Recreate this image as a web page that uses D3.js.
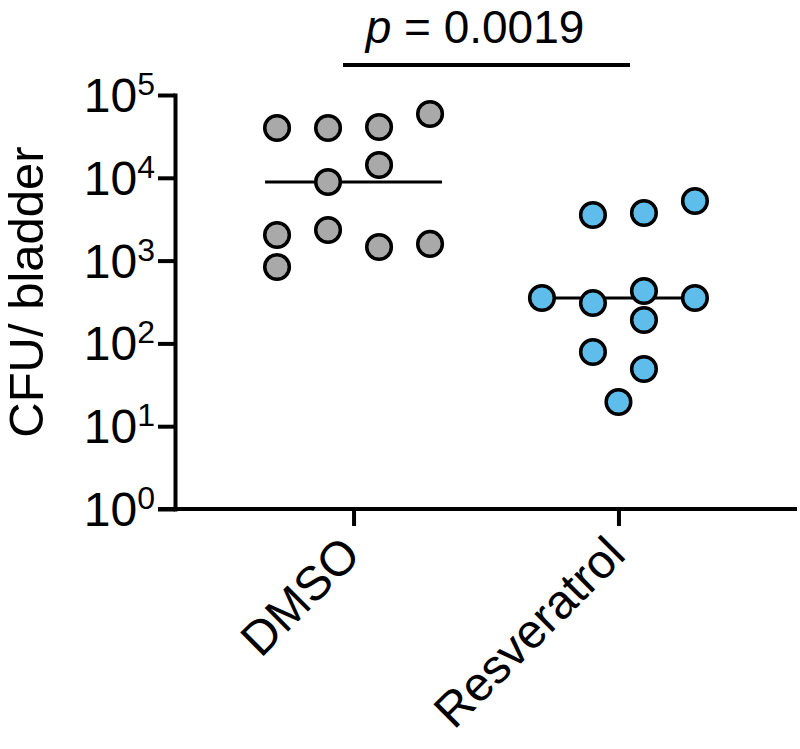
<!DOCTYPE html>
<html>
<head>
<meta charset="utf-8">
<script src="https://cdn.jsdelivr.net/npm/d3@7"></script>
<style>
  html, body { margin: 0; padding: 0; background: #fff; }
  svg { display: block; font-family: "Liberation Sans", Arial, Helvetica, sans-serif; }
</style>
</head>
<body>
<svg id="chart" width="800" height="749"></svg>
<script>
// ---- data ----
const categories = ["DMSO", "Resveratrol"];
const dmsoValues  = [39900, 2040, 837, 39900, 8890, 2340, 41100, 14280, 1460, 59000, 1590];
const dmsoColumns = [-1.5, -1.5, -1.5, -0.5, -0.5, -0.5, 0.5, 0.5, 0.5, 1.5, 1.5];
const resvValues  = [353, 3553, 307, 78.7, 3757, 430, 192, 49.1, 5248, 353, 19.6];
const resvColumns = [-1.5, -0.5, -0.5, -0.5, 0.5, 0.5, 0.5, 0.5, 1.5, 1.5, 0];
const medians = [8890, 353];
const yTickValues = [1, 10, 100, 1000, 10000, 100000];
const yTickExponents = ["0", "1", "2", "3", "4", "5"];
const pLabel = "0.0019";
const yTitle = "CFU/ bladder";

const groups = [
  { name: categories[0], values: dmsoValues, cols: dmsoColumns, fill: "#a9a9a9" },
  { name: categories[1], values: resvValues, cols: resvColumns, fill: "#5fbdec" }
];

// ---- layout ----
const svg = d3.select("#chart");
const axisX = 175, axisY = 509, topY = 95, rightX = 797;

const y = d3.scaleLog().domain([1, 1e5]).range([axisY, topY]);
const x = d3.scalePoint().domain(categories).range([axisX, rightX]).padding(0.674);
const jitter = d3.scaleLinear().domain([-1.5, 1.5]).range([-76.5, 76.5]);

// y axis
const yAxis = svg.append("g")
  .attr("transform", `translate(${axisX},0)`)
  .call(d3.axisLeft(y).tickValues(yTickValues).tickFormat("").tickSize(17).tickSizeOuter(0));
yAxis.selectAll("path, line").attr("stroke", "#000").attr("stroke-width", 4);
yAxis.select(".domain").attr("stroke-linecap", "square");

// y tick labels with superscripts
const yl = svg.append("g");
yTickValues.forEach((v, i) => {
  const t = yl.append("text")
    .attr("x", 155)
    .attr("y", y(v) + 17)
    .attr("text-anchor", "end")
    .attr("fill", "#000");
  t.append("tspan").attr("font-size", 48).text("10");
  t.append("tspan").attr("font-size", 32).attr("dy", -17).text(yTickExponents[i]);
});

// x axis
const xAxis = svg.append("g")
  .attr("transform", `translate(0,${axisY})`)
  .call(d3.axisBottom(x).tickFormat("").tickSize(17).tickSizeOuter(0));
xAxis.selectAll("line").attr("stroke", "#000").attr("stroke-width", 4);
xAxis.select(".domain").attr("d", `M${axisX - 17},0H${rightX}`).attr("stroke", "#000").attr("stroke-width", 4);

// x labels rotated
categories.forEach(c => {
  svg.append("text")
    .attr("transform", `translate(${x(c) + 9},${axisY + 48}) rotate(-45)`)
    .attr("text-anchor", "end")
    .attr("font-size", 48)
    .attr("fill", "#000")
    .text(c);
});

// y title
svg.append("text")
  .attr("transform", `translate(43,292) rotate(-90)`)
  .attr("text-anchor", "middle")
  .attr("font-size", 49)
  .attr("fill", "#000")
  .text(yTitle);

// medians
groups.forEach((g, i) => {
  svg.append("line")
    .attr("x1", x(g.name) + jitter(-1.5) - 12)
    .attr("x2", x(g.name) + jitter(1.5) + 12)
    .attr("y1", y(medians[i]))
    .attr("y2", y(medians[i]))
    .attr("stroke", "#000")
    .attr("stroke-width", 3);
});

// points
groups.forEach(g => {
  svg.append("g").selectAll("circle")
    .data(g.values.map((v, i) => ({ v, c: g.cols[i] })))
    .join("circle")
    .attr("cx", d => x(g.name) + jitter(d.c))
    .attr("cy", d => y(d.v))
    .attr("r", 12.3)
    .attr("fill", g.fill)
    .attr("stroke", "#000")
    .attr("stroke-width", 3.5);
});

// significance bracket
const pX = (x(categories[0]) + x(categories[1])) / 2;
svg.append("line")
  .attr("x1", 343).attr("x2", 630)
  .attr("y1", 65).attr("y2", 65)
  .attr("stroke", "#000").attr("stroke-width", 4);
const pt = svg.append("text")
  .attr("x", pX - 11)
  .attr("y", 43)
  .attr("text-anchor", "middle")
  .attr("font-size", 46)
  .attr("fill", "#000");
pt.append("tspan").attr("font-style", "italic").text("p");
pt.append("tspan").text(" = " + pLabel);
</script>
</body>
</html>
